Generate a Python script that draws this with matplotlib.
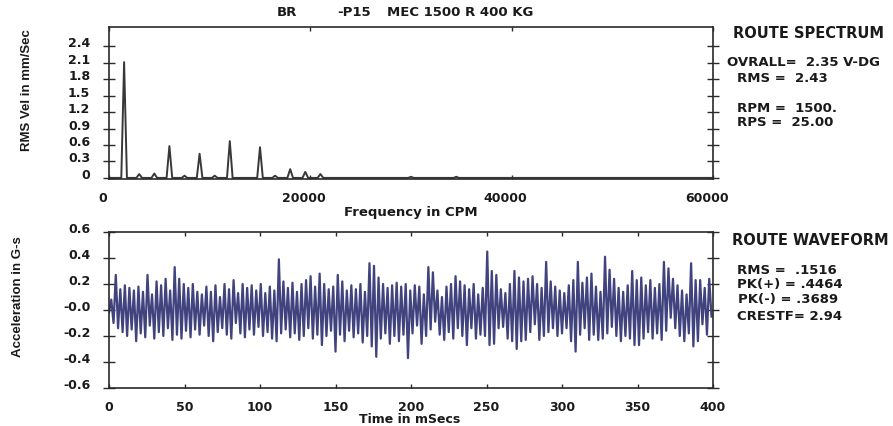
import numpy as np
import matplotlib
matplotlib.use("Agg")
import matplotlib.pyplot as plt
from matplotlib.transforms import ScaledTranslation

# ---------------- data ----------------
# Spectrum peaks (CPM, mm/s RMS)
peak_freqs = [1500, 3000, 4500, 6000, 7500, 9000, 10500, 12000, 15000, 16500, 18000, 19500, 21000, 30000, 34500]
peak_amps  = [2.11, 0.07, 0.08, 0.58, 0.04, 0.44, 0.04, 0.67, 0.56, 0.04, 0.16, 0.11, 0.07, 0.02, 0.02]

spec_yticks = [0, 0.3, 0.6, 0.9, 1.2, 1.5, 1.8, 2.1, 2.4]
spec_ytick_labels = ["0", "0.3", "0.6", "0.9", "1.2", "1.5", "1.8", "2.1", "2.4"]
spec_xticks = [0, 20000, 40000, 60000]

# Waveform extremes (G-s): troughs at 0,3,6,... ms ; peaks at 1.5,4.5,... ms
wave_troughs = [
    -0.02, -0.10, -0.14, -0.17, -0.20, -0.15, -0.24, -0.18, -0.21, -0.12,
    -0.22, -0.17, -0.20, -0.14, -0.23, -0.19, -0.22, -0.16, -0.21, -0.15,
    -0.19, -0.12, -0.20, -0.24, -0.17, -0.14, -0.19, -0.22, -0.10, -0.18,
    -0.21, -0.15, -0.19, -0.13, -0.20, -0.17, -0.22, -0.24, -0.18, -0.15,
    -0.21, -0.18, -0.23, -0.20, -0.14, -0.22, -0.19, -0.27, -0.20, -0.16,
    -0.32, -0.19, -0.24, -0.16, -0.21, -0.18, -0.25, -0.20, -0.28, -0.36,
    -0.22, -0.18, -0.26, -0.20, -0.24, -0.19, -0.37, -0.18, -0.12, -0.26,
    -0.20, -0.15, -0.09, -0.19, -0.23, -0.17, -0.22, -0.14, -0.20, -0.27,
    -0.14, -0.22, -0.19, -0.20, -0.27, -0.26, -0.14, -0.13, -0.22, -0.24,
    -0.30, -0.24, -0.23, -0.17, -0.11, -0.23, -0.20, -0.17, -0.14, -0.20,
    -0.18, -0.14, -0.24, -0.32, -0.19, -0.14, -0.23, -0.19, -0.23, -0.22,
    -0.18, -0.13, -0.20, -0.24, -0.20, -0.22, -0.27, -0.27, -0.22, -0.17,
    -0.22, -0.18, -0.23, -0.16, -0.06, -0.14, -0.20, -0.24, -0.18, -0.28,
    -0.24, -0.11, -0.19, -0.05]
wave_peaks = [
    0.08, 0.27, 0.16, 0.19, 0.17, 0.15, 0.18, 0.14, 0.27, 0.12,
    0.22, 0.19, 0.24, 0.15, 0.33, 0.24, 0.20, 0.17, 0.20, 0.14,
    0.12, 0.18, 0.14, 0.19, 0.10, 0.20, 0.16, 0.23, 0.13, 0.20,
    0.17, 0.19, 0.15, 0.20, 0.13, 0.18, 0.15, 0.39, 0.22, 0.17,
    0.21, 0.14, 0.20, 0.23, 0.26, 0.18, 0.28, 0.20, 0.16, 0.18,
    0.27, 0.22, 0.15, 0.19, 0.16, 0.20, 0.14, 0.36, 0.34, 0.25,
    0.20, 0.17, 0.19, 0.21, 0.18, 0.20, 0.15, 0.19, 0.18, 0.12,
    0.33, 0.29, 0.15, 0.10, 0.18, 0.20, 0.26, 0.22, 0.19, 0.16,
    0.20, 0.12, 0.17, 0.45, 0.30, 0.27, 0.16, 0.13, 0.20, 0.30,
    0.25, 0.22, 0.24, 0.26, 0.20, 0.17, 0.37, 0.22, 0.18, 0.15,
    0.13, 0.19, 0.23, 0.37, 0.21, 0.25, 0.28, 0.18, 0.14, 0.41,
    0.31, 0.24, 0.17, 0.14, 0.19, 0.30, 0.23, 0.25, 0.19, 0.23,
    0.17, 0.20, 0.37, 0.32, 0.24, 0.19, 0.15, 0.12, 0.36, 0.23,
    0.23, 0.17, 0.24]
wave_period_ms = 3.0

wave_yticks = [0.6, 0.4, 0.2, 0.0, -0.2, -0.4, -0.6]
wave_ytick_labels = ["0.6", "0.4", "0.2", "-0.0", "-0.2", "-0.4", "-0.6"]
wave_xticks = [0, 50, 100, 150, 200, 250, 300, 350, 400]

title_parts = ["BR", "-P15", "MEC 1500 R 400 KG"]
spec_info = ["OVRALL=  2.35 V-DG", "RMS =  2.43", "RPM =  1500.", "RPS =  25.00"]
wave_info = ["RMS =  .1516", "PK(+) = .4464", "PK(-) = .3689", "CRESTF= 2.94"]

# ---------------- figure ----------------
W, H = 893, 427
fig = plt.figure(figsize=(W / 100, H / 100), dpi=100)
fig.patch.set_facecolor("white")

def fx(px):
    return px / W

def fy(py):
    return 1 - py / H

BOLD = dict(family="DejaVu Sans", weight="bold")
NARROW = dict(family=["Liberation Sans", "DejaVu Sans"], weight="bold")
frame_col = "#2a2a2a"
txt_col = "#1a1a1a"

ax1 = fig.add_axes([fx(109), fy(180), fx(713 - 109), (180 - 28) / H])
ax2 = fig.add_axes([fx(109), fy(389), fx(713 - 109), (389 - 233) / H])

# spectrum polyline
half_w = 280
order = np.argsort(peak_freqs)
sx, sy = [0], [0.0]
for i in order:
    f, a = peak_freqs[i], peak_amps[i]
    sx += [f - half_w, f, f + half_w]
    sy += [0.0, a, 0.0]
sx.append(60000)
sy.append(0.0)
ax1.plot(sx, sy, color="#383838", lw=1.4)
ax1.set_xlim(0, 60000)
ax1.set_ylim(-0.02, 2.75)
ax1.set_yticks(spec_yticks)
ax1.set_yticklabels(spec_ytick_labels)
ax1.set_xticks(spec_xticks)
ax1.set_xticklabels([str(v) for v in spec_xticks])

# waveform polyline
n = len(wave_peaks)
wt, wv = [], []
for k in range(n):
    wt += [k * wave_period_ms, k * wave_period_ms + wave_period_ms / 2]
    wv += [wave_troughs[k], wave_peaks[k]]
wt.append(n * wave_period_ms)
wv.append(wave_troughs[n])
ax2.plot(wt, wv, color="#40437e", lw=1.6)
ax2.set_xlim(0, 400)
ax2.set_ylim(-0.6, 0.6)
ax2.set_yticks(wave_yticks)
ax2.set_yticklabels(wave_ytick_labels)
ax2.set_xticks(wave_xticks)
ax2.set_xticklabels([str(v) for v in wave_xticks])

for ax in (ax1, ax2):
    for s in ax.spines.values():
        s.set_color(frame_col)
        s.set_linewidth(1.2)
    ax.tick_params(axis="y", which="both", direction="inout", length=9, width=1,
                   left=True, right=True, color=frame_col, pad=9)
    ax.tick_params(axis="x", direction="in", length=3, width=1, top=True,
                   bottom=True, color=frame_col, pad=9)
    for lab in ax.get_yticklabels() + ax.get_xticklabels():
        lab.set_fontfamily("DejaVu Sans")
        lab.set_fontweight("bold")
        lab.set_fontsize(9)
        lab.set_color(txt_col)
    for lab in ax.get_yticklabels():
        lab.set_transform(lab.get_transform() + ScaledTranslation(0, 5 / 100, fig.dpi_scale_trans))

for lab in ax1.get_xticklabels():
    lab.set_transform(lab.get_transform() + ScaledTranslation(-6 / 100, 0, fig.dpi_scale_trans))

# axis labels
fig.text(fx(27), fy(90), "RMS Vel in mm/Sec", rotation=90, ha="center", va="center",
         fontsize=9.5, color=txt_col, **NARROW)
fig.text(fx(18), fy(297), "Acceleration in G-s", rotation=90, ha="center", va="center",
         fontsize=9.5, color=txt_col, **NARROW)
fig.text(fx(411), fy(213), "Frequency in CPM", ha="center", va="center",
         fontsize=9.5, color=txt_col, **BOLD)
fig.text(fx(410), fy(420), "Time in mSecs", ha="center", va="center",
         fontsize=9, color=txt_col, **BOLD)

# title
for xp, s in zip([277, 337, 387], title_parts):
    fig.text(fx(xp), fy(12), s, ha="left", va="center", fontsize=9.5, color=txt_col, **BOLD)

# right side info
fig.text(fx(733), fy(33), "ROUTE SPECTRUM", ha="left", va="center", fontsize=10.5, color=txt_col, **BOLD)
for (xp, yp), s in zip([(727, 63), (737, 79), (737, 108), (737, 122)], spec_info):
    fig.text(fx(xp), fy(yp), s, ha="left", va="center", fontsize=9.5, color=txt_col, **BOLD)
fig.text(fx(732), fy(241), "ROUTE WAVEFORM", ha="left", va="center", fontsize=10.5, color=txt_col, **BOLD)
for (xp, yp), s in zip([(737, 270), (737, 285), (738, 300), (737, 316)], wave_info):
    fig.text(fx(xp), fy(yp), s, ha="left", va="center", fontsize=9.5, color=txt_col, **BOLD)

fig.savefig("out.png", dpi=100, facecolor="white")
